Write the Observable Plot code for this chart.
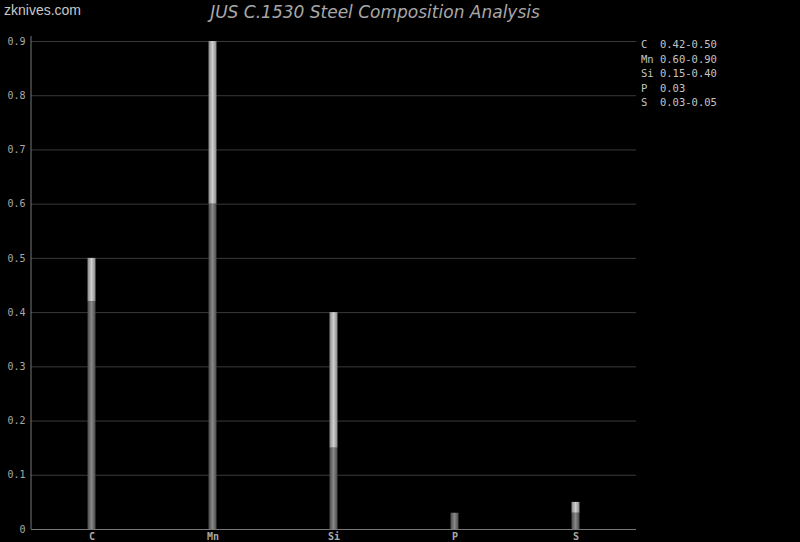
<!DOCTYPE html>
<html>
<head>
<meta charset="utf-8">
<script src="https://cdn.jsdelivr.net/npm/d3@7"></script>
<script src="https://cdn.jsdelivr.net/npm/@observablehq/plot@0.6"></script>
<style>
  html, body { margin: 0; padding: 0; background: #000; }
  #wrap { position: relative; width: 800px; height: 542px; overflow: hidden; background: #000; }
  #chart { position: absolute; left: 0; top: 0; }
  .wm { position: absolute; left: 4px; top: 2px; font-family: "Liberation Sans", Arial, sans-serif; font-size: 14px; color: #c8c8c8; }
  .title { position: absolute; left: 0; width: 750px; top: 2px; text-align: center; font-family: "DejaVu Sans", sans-serif; font-style: italic; font-size: 17px; color: #a8a8a8; }
  .legend { position: absolute; left: 641px; top: 37px; font-family: "DejaVu Sans Mono", monospace; font-size: 10.5px; line-height: 14.5px; color: #c4c4c4; white-space: pre; }
</style>
</head>
<body>
<div id="wrap">
  <div id="chart"></div>
  <div class="wm">zknives.com</div>
  <div class="title">JUS C.1530 Steel Composition Analysis</div>
  <div class="legend" id="legend"></div>
</div>
<script>
const elements = ["C", "Mn", "Si", "P", "S"];
const minVals = [0.42, 0.60, 0.15, 0.03, 0.03];
const maxVals = [0.50, 0.90, 0.40, null, 0.05];
const legendLabels = ["0.42-0.50", "0.60-0.90", "0.15-0.40", "0.03", "0.03-0.05"];
const yTicks = [0, 0.1, 0.2, 0.3, 0.4, 0.5, 0.6, 0.7, 0.8, 0.9];

const lowData = elements.map((e, i) => ({el: e, y1: 0, y2: minVals[i]}));
const highData = elements.map((e, i) => ({el: e, y1: minVals[i], y2: maxVals[i]})).filter(d => d.y2 != null);

const barInset = 56.5;

const plot = Plot.plot({
  width: 800,
  height: 542,
  marginLeft: 31,
  marginRight: 164,
  marginTop: 41,
  marginBottom: 13,
  style: {background: "#000", color: "#aaa", fontFamily: "DejaVu Sans Mono, monospace", fontSize: "10px"},
  x: {domain: elements, padding: 0, label: null},
  y: {domain: [0, 0.9], label: null},
  marks: [
    Plot.gridY(yTicks, {stroke: "#3a3a3a", strokeOpacity: 1}),
    Plot.axisY(yTicks, {tickSize: 0, tickPadding: 6, tickFormat: d => String(d), fill: "#aaa", label: null}),
    Plot.axisX({tickSize: 0, tickPadding: 3, fill: "#aaa", label: null, fontWeight: "bold"}),
    Plot.barY(lowData, {x: "el", y1: "y1", y2: "y2", fill: "#777", insetLeft: barInset, insetRight: barInset, className: "lowbar"}),
    Plot.barY(highData, {x: "el", y1: "y1", y2: "y2", fill: "#bbb", insetLeft: barInset, insetRight: barInset, className: "highbar"}),
    Plot.ruleY([0], {stroke: "#777"})
  ]
});

const svg = d3.select(plot);
const defs = svg.insert("defs", ":first-child");
function grad(id, edge, mid) {
  const g = defs.append("linearGradient").attr("id", id).attr("x1", 0).attr("x2", 1).attr("y1", 0).attr("y2", 0);
  g.append("stop").attr("offset", "0%").attr("stop-color", edge);
  g.append("stop").attr("offset", "50%").attr("stop-color", mid);
  g.append("stop").attr("offset", "100%").attr("stop-color", edge);
}
grad("gLow", "#4a4a4a", "#888888");
grad("gHigh", "#888888", "#cfcfcf");
svg.selectAll(".lowbar rect").attr("fill", "url(#gLow)");
svg.selectAll(".highbar rect").attr("fill", "url(#gHigh)");
svg.selectAll("g.lowbar, g.highbar").attr("fill", null);

// left axis line
const xr = plot.scale("x").range;
const yr = plot.scale("y").range;
svg.append("line")
  .attr("x1", xr[0]).attr("x2", xr[0])
  .attr("y1", yr[1] - 5).attr("y2", yr[0])
  .attr("stroke", "#777");

document.getElementById("chart").appendChild(plot);

const legendText = elements.map((e, i) => (e + "  ").slice(0, 3) + legendLabels[i]).join("\n");
document.getElementById("legend").textContent = legendText;
</script>
</body>
</html>
